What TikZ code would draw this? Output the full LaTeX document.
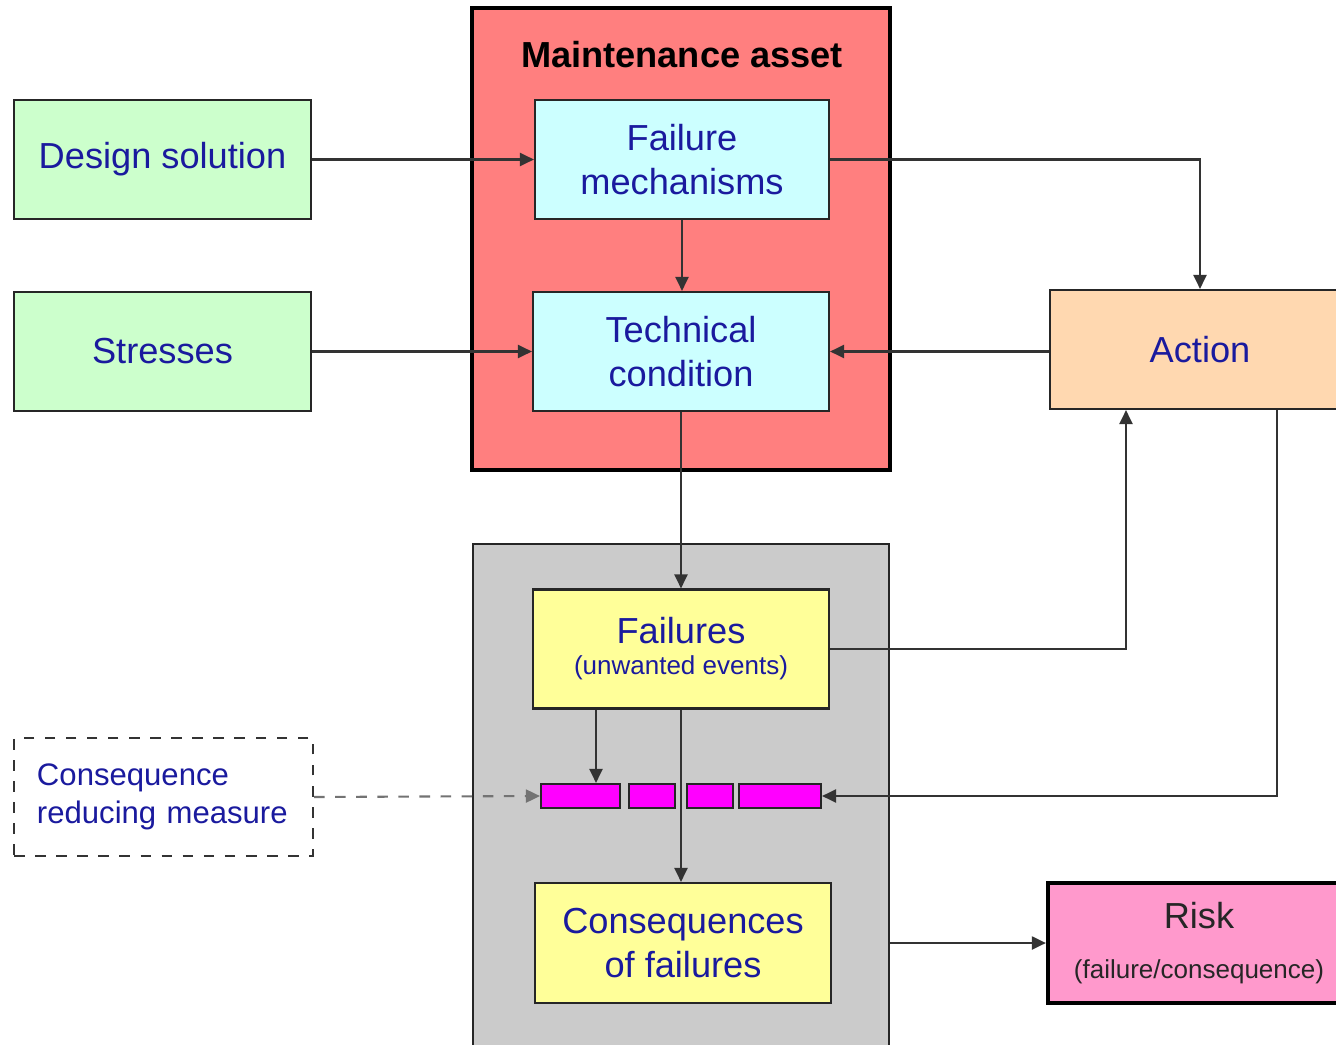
\documentclass[tikz,border=0pt]{standalone}
\usepackage{fontspec}
\setmainfont{Liberation Sans}
\usetikzlibrary{arrows.meta,positioning}
\definecolor{assetred}{HTML}{FF7F7F}
\definecolor{mechcyan}{HTML}{CCFFFF}
\definecolor{inputgreen}{HTML}{CCFFCC}
\definecolor{actpeach}{HTML}{FFD8B0}
\definecolor{failyellow}{HTML}{FFFF99}
\definecolor{riskpink}{HTML}{FF99CC}
\definecolor{barmagenta}{HTML}{FF00FF}
\definecolor{zonegray}{HTML}{CBCBCB}
\definecolor{txtblue}{HTML}{1A1A9E}
\definecolor{linegray}{HTML}{333333}
\newcommand{\smalltxt}{\fontsize{7.4}{9}\selectfont}

\begin{document}
\begin{tikzpicture}[
  box/.style={draw=black!85, line width=0.6pt, minimum width=2.96cm, minimum height=1.19cm, inner sep=0,
    align=center, text=txtblue, font=\fontsize{10.3}{12.5}\selectfont},
  mech/.style={box, fill=mechcyan},
  inp/.style={box, fill=inputgreen},
  fail/.style={box, fill=failyellow},
  bar/.style={draw=black!85, line width=0.6pt, fill=barmagenta, minimum height=0.24cm, inner sep=0},
  conn/.style={draw=linegray, line width=0.6pt, -{Triangle[length=1.4mm,width=1.3mm]}},
]
\useasboundingbox (0,0) rectangle (13.36,-10.45);

% containers
\node[draw=black, line width=1.2pt, fill=assetred, minimum width=4.18cm, minimum height=4.62cm, inner sep=0] (asset) at (6.81,-2.39) {};
\node[font=\bfseries\fontsize{10.3}{12.5}\selectfont] (title) at (6.82,-0.55) {Maintenance asset};
\node[draw=black!85, line width=0.6pt, fill=zonegray, minimum width=4.16cm, minimum height=5.16cm, inner sep=0] (zone) at (6.81,-8.02) {};

% asset and inputs
\node[mech, minimum width=2.94cm] (fm) at (6.82,-1.595) {Failure\\mechanisms};
\node[mech] (tc) at (6.81,-3.515) {Technical\\condition};
\node[inp, minimum width=2.97cm] (ds) at (1.625,-1.595) {\raisebox{-1.2pt}{Design solution}};
\node[inp, minimum width=2.97cm] (st) at (1.625,-3.515) {Stresses};
\node[box, fill=actpeach, minimum width=3.0cm] (act) at (12.0,-3.495) {Action};

% failures and consequences
\node[fail] (fl) at (6.81,-6.49) {\raisebox{-1pt}{Failures}\\[-2.7pt]{\smalltxt (unwanted events)}};
\node[fail, minimum height=1.2cm] (cf) at (6.83,-9.43) {Consequences\\of failures};
\node[bar, minimum width=0.79cm] (b1) at (5.805,-7.96) {};
\node[bar, minimum width=0.46cm] (b2) at (6.52,-7.96) {};
\node[bar, minimum width=0.46cm] (b3) at (7.10,-7.96) {};
\node[bar, minimum width=0.82cm] (b4) at (7.80,-7.96) {};
\node[box, draw=black!80, dashed, fill=white, minimum width=2.99cm, minimum height=1.18cm, text width=2.53cm,
  align=left, font=\fontsize{8.85}{10.9}\selectfont] (crm) at (1.635,-7.97) {Consequence\\reducing measure};
\node[box, draw=black, line width=1.2pt, fill=riskpink, minimum width=3.02cm, minimum height=1.2cm, text=black!85]
  (risk) at (11.99,-9.43) {Risk\\[1.7pt]{\smalltxt (failure/consequence)}};

% connectors
\draw[conn] (ds.east) -- (fm.west);
\draw[conn] (st.east) -- (tc.west);
\draw[conn] (fm.south) -- (fm.south |- tc.north);
\draw[conn] (fm.east) -| (act.north);
\draw[conn] (act.west |- tc.east) -- (tc.east);
\draw[conn] (tc.south) -- (tc.south |- fl.north);
\draw[conn] (fl.east) -| ([xshift=-7.4mm]act.south);
\draw[conn] ([xshift=7.7mm]act.south) |- (b4.east);
\draw[conn] ([xshift=-8.5mm]fl.south) -- ([xshift=-8.5mm]fl.south |- b1.north);
\draw[conn] (fl.south) -- (fl.south |- cf.north);
\draw[conn, draw=black!55, dashed] (crm.east) -- (b1.west);
\draw[conn] (zone.east |- risk.west) -- (risk.west);
\end{tikzpicture}
\end{document}
